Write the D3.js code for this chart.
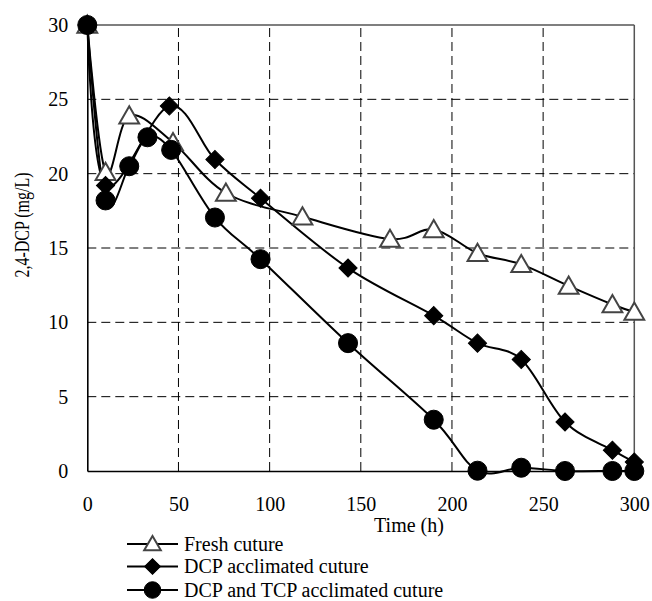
<!DOCTYPE html>
<html>
<head>
<meta charset="utf-8">
<script src="https://cdn.jsdelivr.net/npm/d3@7"></script>
<style>
  body { margin: 0; background: #fff; }
  svg text { font-family: "Liberation Serif", "Times New Roman", serif; fill: #000; }
</style>
</head>
<body>
<svg id="chart" width="652" height="601"></svg>
<script>
// data
var freshTime = [0, 10, 23, 47, 76, 118, 166, 190, 214, 238, 264, 288, 300];
var freshConc = [30, 20.1, 23.9, 22.1, 18.7, 17.1, 15.6, 16.25, 14.65, 13.9, 12.45, 11.2, 10.7];

var dcpTime = [0, 10, 45, 70, 95, 143, 190, 214, 238, 262, 288, 300];
var dcpConc = [30, 19.2, 24.55, 20.95, 18.35, 13.65, 10.45, 8.6, 7.5, 3.3, 1.4, 0.6];

var tcpTime = [0, 10, 23, 33, 46, 70, 95, 143, 190, 214, 238, 262, 288, 300];
var tcpConc = [30, 18.2, 20.5, 22.45, 21.6, 17.05, 14.25, 8.6, 3.45, 0.02, 0.22, 0, 0, 0];

var xTicks = [0, 50, 100, 150, 200, 250, 300];
var yTicks = [0, 5, 10, 15, 20, 25, 30];
var legendNames = ["Fresh cuture", "DCP acclimated cuture", "DCP and TCP acclimated cuture"];

var svg = d3.select('#chart');

var x = d3.scaleLinear().domain([0, 300]).range([87.3, 634.3]);
var y = d3.scaleLinear().domain([0, 30]).range([471, 25]);

// grid
var grid = svg.append('g').attr('class', 'grid');
grid.selectAll('line.v')
    .data(xTicks.filter(function(d) { return d > 0 && d < 300 }))
  .enter().append('line')
    .attr('x1', function(d) { return x(d) }).attr('x2', function(d) { return x(d) })
    .attr('y1', y(0)).attr('y2', y(30))
    .attr('stroke', '#000').attr('stroke-width', 1).attr('stroke-dasharray', '9,5');
grid.selectAll('line.h')
    .data(yTicks.filter(function(d) { return d > 0 && d < 30 }))
  .enter().append('line')
    .attr('x1', x(0)).attr('x2', x(300))
    .attr('y1', function(d) { return y(d) }).attr('y2', function(d) { return y(d) })
    .attr('stroke', '#000').attr('stroke-width', 1).attr('stroke-dasharray', '9,5');

// frame top / right
svg.append('line').attr('x1', x(0)).attr('x2', x(300)).attr('y1', y(30)).attr('y2', y(30))
    .attr('stroke', '#555').attr('stroke-width', 1.5);
svg.append('line').attr('x1', x(300)).attr('x2', x(300)).attr('y1', y(30)).attr('y2', y(0))
    .attr('stroke', '#555').attr('stroke-width', 1.5);

// axes
var xAxis = svg.append('g')
    .attr('transform', 'translate(0,' + y(0) + ')')
    .call(d3.axisBottom(x).tickValues(xTicks).tickSize(0).tickPadding(26));
var yAxis = svg.append('g')
    .attr('transform', 'translate(' + x(0) + ',0)')
    .call(d3.axisLeft(y).tickValues(yTicks).tickSize(0).tickPadding(19));
[xAxis, yAxis].forEach(function(a) {
    a.select('.domain').attr('stroke', '#000').attr('stroke-width', 1.6);
    a.selectAll('text').style('font-size', '20px').style('font-family', '"Liberation Serif", serif');
});

// titles
svg.append('text')
    .attr('x', 409).attr('y', 532)
    .attr('text-anchor', 'middle')
    .style('font-size', '20px')
    .text('Time (h)');
svg.append('text')
    .attr('transform', 'translate(29,225) rotate(-90)')
    .attr('text-anchor', 'middle')
    .attr('textLength', 105).attr('lengthAdjust', 'spacingAndGlyphs')
    .style('font-size', '20px')
    .text('2,4-DCP (mg/L)');

// series
var line = d3.line()
    .x(function(d) { return x(d[0]) })
    .y(function(d) { return y(d[1]) })
    .curve(d3.curveCardinal.tension(0));

var series = [
    { times: freshTime, vals: freshConc, sym: d3.symbolTriangle, size: 170, legSize: 120, fill: '#fff', stroke: '#444', rot: 0 },
    { times: dcpTime, vals: dcpConc, sym: d3.symbolSquare, size: 165, legSize: 125, fill: '#000', stroke: '#000', rot: 45 },
    { times: tcpTime, vals: tcpConc, sym: d3.symbolCircle, size: 285, legSize: 215, fill: '#000', stroke: '#000', rot: 0 }
];

series.forEach(function(s) {
    s.points = s.times.map(function(t, i) { return [t, s.vals[i]] });
    svg.append('path')
        .attr('d', line(s.points))
        .attr('fill', 'none')
        .attr('stroke', '#000')
        .attr('stroke-width', 2);
});

// markers drawn last, circles end up on top
series.forEach(function(s) {
    svg.append('g').selectAll('path')
        .data(s.points)
      .enter().append('path')
        .attr('d', d3.symbol().type(s.sym).size(s.size))
        .attr('transform', function(d) {
            var dy = s.sym === d3.symbolTriangle ? 2 : 0;
            return 'translate(' + x(d[0]) + ',' + (y(d[1]) + dy) + ') rotate(' + s.rot + ')';
        })
        .attr('fill', s.fill)
        .attr('stroke', s.stroke)
        .attr('stroke-width', s.sym === d3.symbolTriangle ? 2 : 1);
});

// legend
var legend = svg.append('g').attr('transform', 'translate(127,544)');
var rows = legend.selectAll('g')
    .data(series)
  .enter().append('g')
    .attr('transform', function(d, i) { return 'translate(0,' + [0, 22.5, 46][i] + ')' });
rows.append('line')
    .attr('x1', 0).attr('x2', 51)
    .attr('stroke', '#000').attr('stroke-width', 2);
rows.append('path')
    .attr('d', function(d) { return d3.symbol().type(d.sym).size(d.legSize)() })
    .attr('transform', function(d) {
        var dy = d.sym === d3.symbolTriangle ? 1.5 : 0;
        return 'translate(25.5,' + dy + ') rotate(' + d.rot + ')';
    })
    .attr('fill', function(d) { return d.fill })
    .attr('stroke', function(d) { return d.stroke })
    .attr('stroke-width', function(d) { return d.sym === d3.symbolTriangle ? 2 : 1 });
rows.append('text')
    .attr('x', 57).attr('dy', '0.33em')
    .style('font-size', '20px')
    .text(function(d, i) { return legendNames[i] });
</script>
</body>
</html>
